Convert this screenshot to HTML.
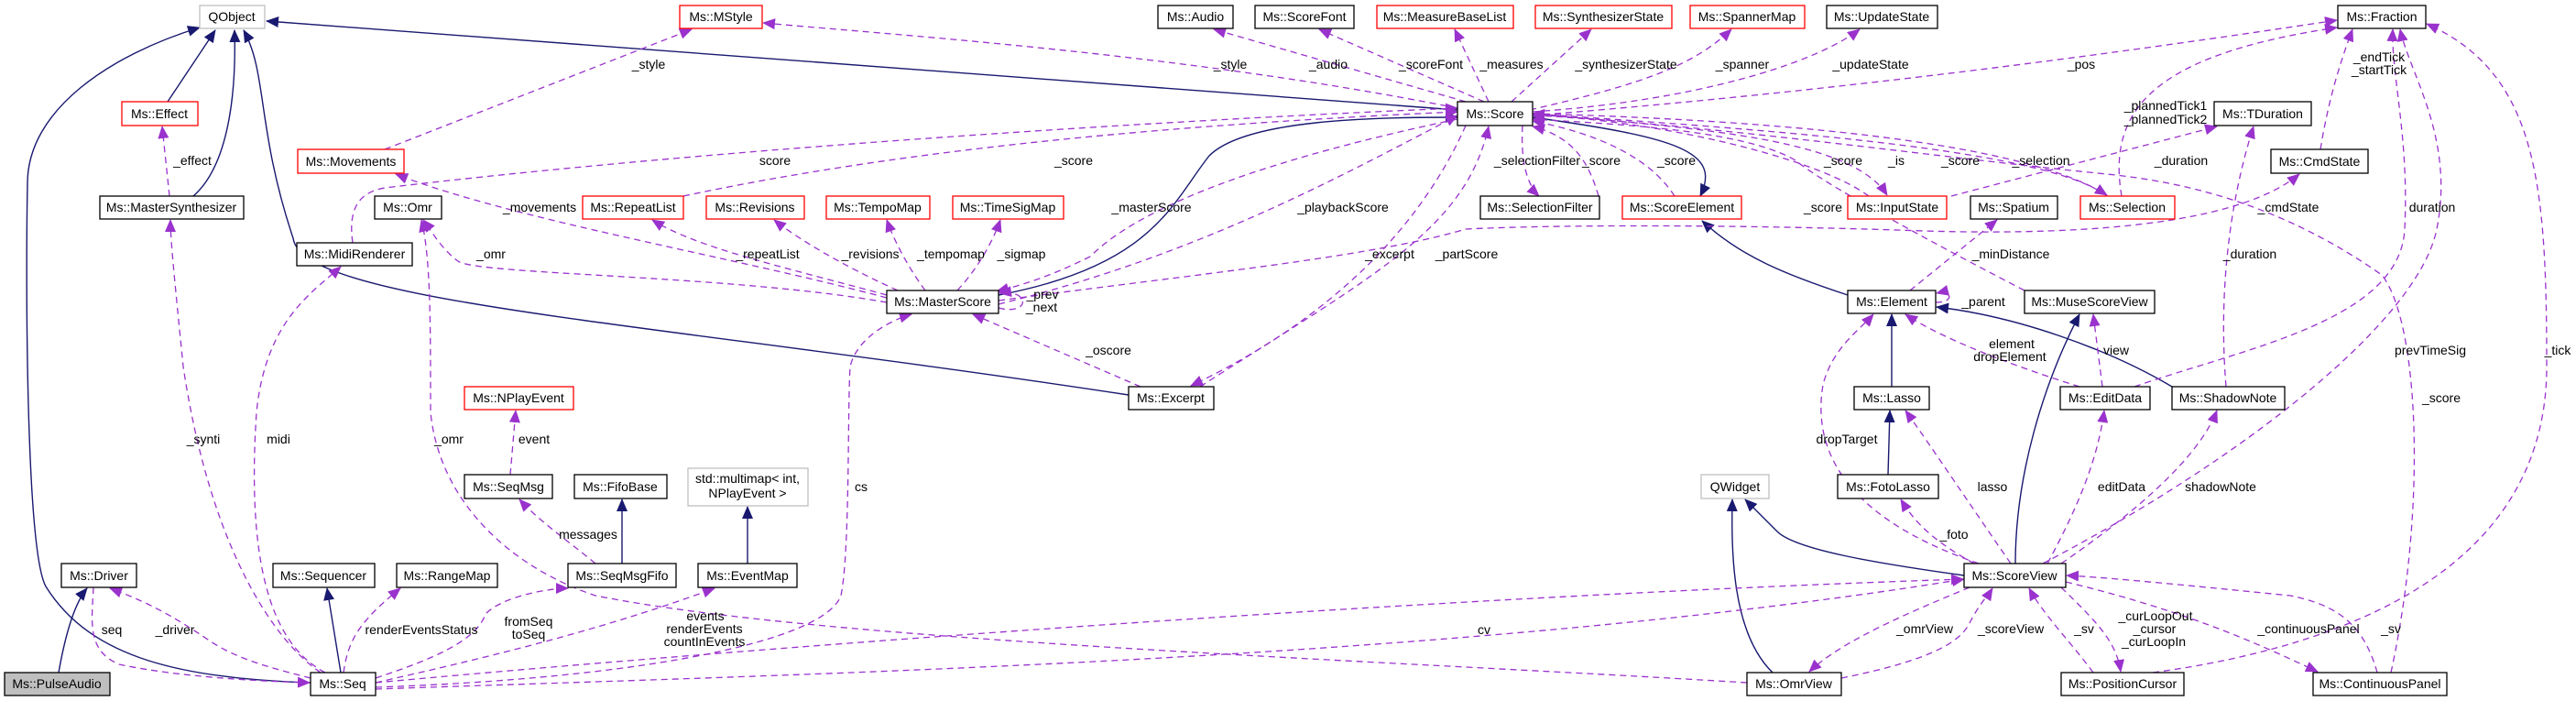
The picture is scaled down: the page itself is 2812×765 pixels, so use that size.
<!DOCTYPE html>
<html><head><meta charset="utf-8"><style>
html,body{margin:0;padding:0;background:#fff;}
svg{display:block;font-family:"Liberation Sans",Arial,sans-serif;}
.n{fill:#fff;stroke:#000;stroke-width:1.3}
.r{fill:#fff;stroke:#ff0000;stroke-width:1.3}
.g{fill:#fff;stroke:#bfbfbf;stroke-width:1.3}
.t{font-size:14px;text-anchor:middle;fill:#000}
.l{font-size:14px;text-anchor:middle;fill:#000}
.i{fill:none;stroke:#191970;stroke-width:1.4}
.u{fill:none;stroke:#9a32cd;stroke-width:1.3;stroke-dasharray:7,5}
</style></head><body>
<svg width="2812" height="765" viewBox="0 0 2812 765" xmlns="http://www.w3.org/2000/svg">
<defs>
<marker id="an" markerWidth="14" markerHeight="12" refX="13" refY="6" orient="auto" markerUnits="userSpaceOnUse"><path d="M0,0 L14,6 L0,12 z" fill="#191970"/></marker>
<marker id="ap" markerWidth="14" markerHeight="12" refX="13" refY="6" orient="auto" markerUnits="userSpaceOnUse"><path d="M0,0 L14,6 L0,12 z" fill="#9a32cd"/></marker>
</defs>

<!-- inheritance edges -->
<g class="i" marker-end="url(#an)">
<path d="M183,111 L235,33"/>
<path d="M211,214 C250,180 258,100 256,33"/>
<path d="M1591,120 L291,23"/>
<path d="M1232,431 C700,350 330,330 320,260 C280,140 292,80 266,33"/>
<path d="M339,745 C200,740 100,720 50,640 C28,600 28,300 30,200 C30,120 120,60 218,30"/>
<path d="M64,734 C70,700 80,660 95,642"/>
<path d="M372,734 L357,642"/>
<path d="M679,615 L679,545"/>
<path d="M816,615 L816,553"/>
<path d="M1090,322 C1260,290 1280,220 1320,170 C1360,130 1500,128 1591,128"/>
<path d="M1673,128 C1830,150 1880,165 1856,214"/>
<path d="M2017,322 C1950,300 1900,280 1858,241"/>
<path d="M2065,422 L2065,343"/>
<path d="M2061,518 L2063,448"/>
<path d="M2371,422 C2300,380 2200,345 2114,335"/>
<path d="M2200,615 C2200,520 2230,420 2270,343"/>
<path d="M2144,628 C2050,615 1960,600 1940,580 C1920,560 1910,550 1905,545"/>
<path d="M1935,734 C1890,690 1890,600 1891,545"/>
</g>

<!-- usage edges -->
<g class="u" marker-end="url(#ap)">
<path d="M420,163 L755,32"/>
<path d="M1591,118 C1300,60 1000,40 833,25"/>
<path d="M1600,111 L1325,32"/>
<path d="M1620,111 L1440,32"/>
<path d="M1625,111 L1588,32"/>
<path d="M1650,111 L1737,32"/>
<path d="M1670,120 C1800,90 1850,70 1890,32"/>
<path d="M1673,122 C1850,110 1980,70 2030,32"/>
<path d="M1673,126 C2000,100 2300,60 2551,22"/>
<path d="M2316,214 C2300,120 2350,60 2551,30"/>
<path d="M2533,163 C2540,120 2550,80 2568,32"/>
<path d="M2330,422 C2450,380 2620,350 2625,250 C2630,150 2610,80 2612,32"/>
<path d="M2350,734 C2600,700 2780,600 2780,400 C2780,200 2770,80 2649,26"/>
<path d="M2230,615 C2450,500 2640,350 2660,250 C2680,150 2630,80 2620,32"/>
<path d="M2430,422 C2420,300 2440,200 2460,138"/>
<path d="M2130,214 L2420,138"/>
<path d="M1090,328 C1300,300 1500,280 1600,250 C1700,245 1900,245 2100,252 C2300,258 2450,240 2510,190"/>
<path d="M1310,422 C1500,300 1600,250 1625,138"/>
<path d="M1600,137 C1550,250 1450,350 1300,421"/>
<path d="M1245,422 L1062,343"/>
<path d="M1591,130 C1400,170 1250,220 1190,280 C1150,300 1120,310 1088,318"/>
<path d="M1090,332 C1300,280 1450,200 1591,126"/>
<path d="M1090,336 C1125,345 1125,315 1091,320"/>
<path d="M968,325 C800,280 560,240 432,190"/>
<path d="M968,330 C800,300 520,300 500,285 C480,270 470,250 462,240"/>
<path d="M968,322 C850,290 760,270 712,240"/>
<path d="M980,317 C920,290 870,260 845,240"/>
<path d="M1010,317 C990,290 975,260 968,240"/>
<path d="M1045,317 C1070,290 1085,260 1092,240"/>
<path d="M385,265 C380,230 390,210 420,205 C800,160 1300,130 1591,118"/>
<path d="M746,214 C1000,160 1300,135 1591,122"/>
<path d="M2040,214 C1980,170 1800,130 1673,126"/>
<path d="M1673,124 C1850,140 2020,150 2060,213"/>
<path d="M2300,214 C2230,160 1900,140 1673,124"/>
<path d="M1673,124 C1900,130 2200,150 2300,213"/>
<path d="M2210,317 C2100,260 1990,200 1960,175 C1900,140 1750,135 1673,130"/>
<path d="M1745,214 C1735,180 1720,150 1673,138"/>
<path d="M1662,137 C1660,170 1665,200 1680,214"/>
<path d="M1828,214 C1800,170 1740,145 1673,132"/>
<path d="M2610,734 C2650,550 2640,350 2600,300 C2500,230 2400,200 2300,190 C2100,170 1900,140 1673,125"/>
<path d="M2113,330 C2135,330 2130,316 2114,320"/>
<path d="M2085,317 L2180,240"/>
<path d="M2270,422 C2200,400 2120,370 2080,343"/>
<path d="M2295,422 L2285,343"/>
<path d="M2160,615 C2000,560 1980,480 1990,420 C2000,380 2030,360 2045,343"/>
<path d="M2195,615 C2150,550 2110,490 2080,448"/>
<path d="M2155,615 C2110,590 2090,570 2075,545"/>
<path d="M2235,615 C2270,550 2290,500 2297,448"/>
<path d="M2250,615 C2330,560 2400,500 2420,448"/>
<path d="M2010,740 C2110,720 2140,700 2150,680 C2160,660 2170,650 2175,642"/>
<path d="M2150,641 C2080,670 2010,700 1975,733"/>
<path d="M2285,734 C2260,700 2230,670 2215,642"/>
<path d="M2250,641 C2290,680 2310,700 2315,733"/>
<path d="M2255,635 C2400,670 2480,710 2530,733"/>
<path d="M2595,734 C2580,680 2550,660 2500,650 C2400,640 2300,630 2256,628"/>
<path d="M410,745 C900,700 1600,650 2143,632"/>
<path d="M1907,745 C1500,720 900,700 650,650 C560,620 480,550 470,450 C470,350 470,280 460,240"/>
<path d="M410,750 C700,740 900,700 918,650 C928,600 925,450 928,400 C935,370 970,350 995,343"/>
<path d="M339,740 C300,730 260,720 230,700 C200,680 170,660 120,642"/>
<path d="M102,641 C100,680 95,710 130,725 C200,740 300,744 338,745"/>
<path d="M350,734 C300,700 230,600 200,400 C190,300 186,260 186,240"/>
<path d="M355,734 C290,700 270,600 280,450 C290,350 340,320 372,291"/>
<path d="M375,734 C380,700 390,680 437,642"/>
<path d="M410,740 C470,720 520,700 530,670 C550,650 600,642 620,642"/>
<path d="M410,745 C520,720 650,690 780,642"/>
<path d="M557,518 L563,448"/>
<path d="M650,615 C620,590 590,570 567,545"/>
<path d="M185,214 L177,138"/>
<path d="M410,752 C900,735 1600,720 2144,632"/>
</g>

<!-- nodes -->
<g>
<rect class="g" x="218" y="6" width="71" height="25"/><text class="t" x="253" y="23">QObject</text>
<rect class="r" x="742" y="6" width="90" height="25"/><text class="t" x="787" y="23">Ms::MStyle</text>
<rect class="n" x="1264" y="6" width="82" height="25"/><text class="t" x="1305" y="23">Ms::Audio</text>
<rect class="n" x="1370" y="6" width="108" height="25"/><text class="t" x="1424" y="23">Ms::ScoreFont</text>
<rect class="r" x="1503" y="6" width="149" height="25"/><text class="t" x="1577" y="23">Ms::MeasureBaseList</text>
<rect class="r" x="1676" y="6" width="149" height="25"/><text class="t" x="1750" y="23">Ms::SynthesizerState</text>
<rect class="r" x="1845" y="6" width="125" height="25"/><text class="t" x="1907" y="23">Ms::SpannerMap</text>
<rect class="n" x="1994" y="6" width="121" height="25"/><text class="t" x="2054" y="23">Ms::UpdateState</text>
<rect class="n" x="2552" y="6" width="96" height="25"/><text class="t" x="2600" y="23">Ms::Fraction</text>

<rect class="r" x="133" y="111" width="83" height="26"/><text class="t" x="174" y="129">Ms::Effect</text>
<rect class="n" x="1591" y="111" width="82" height="26"/><text class="t" x="1632" y="129">Ms::Score</text>
<rect class="n" x="2417" y="111" width="106" height="26"/><text class="t" x="2470" y="129">Ms::TDuration</text>

<rect class="r" x="325" y="163" width="116" height="26"/><text class="t" x="383" y="181">Ms::Movements</text>
<rect class="n" x="2479" y="163" width="106" height="26"/><text class="t" x="2532" y="181">Ms::CmdState</text>

<rect class="n" x="109" y="214" width="157" height="25"/><text class="t" x="187" y="231">Ms::MasterSynthesizer</text>
<rect class="n" x="409" y="214" width="73" height="25"/><text class="t" x="445" y="231">Ms::Omr</text>
<rect class="r" x="636" y="214" width="110" height="25"/><text class="t" x="691" y="231">Ms::RepeatList</text>
<rect class="r" x="771" y="214" width="107" height="25"/><text class="t" x="824" y="231">Ms::Revisions</text>
<rect class="r" x="902" y="214" width="113" height="25"/><text class="t" x="958" y="231">Ms::TempoMap</text>
<rect class="r" x="1040" y="214" width="121" height="25"/><text class="t" x="1100" y="231">Ms::TimeSigMap</text>
<rect class="n" x="1616" y="214" width="130" height="25"/><text class="t" x="1681" y="231">Ms::SelectionFilter</text>
<rect class="r" x="1771" y="214" width="130" height="25"/><text class="t" x="1836" y="231">Ms::ScoreElement</text>
<rect class="r" x="2017" y="214" width="108" height="25"/><text class="t" x="2071" y="231">Ms::InputState</text>
<rect class="n" x="2151" y="214" width="95" height="25"/><text class="t" x="2198" y="231">Ms::Spatium</text>
<rect class="r" x="2271" y="214" width="103" height="25"/><text class="t" x="2322" y="231">Ms::Selection</text>

<rect class="n" x="324" y="265" width="126" height="25"/><text class="t" x="387" y="282">Ms::MidiRenderer</text>

<rect class="n" x="968" y="317" width="122" height="25"/><text class="t" x="1029" y="334">Ms::MasterScore</text>
<rect class="n" x="2017" y="317" width="96" height="25"/><text class="t" x="2065" y="334">Ms::Element</text>
<rect class="n" x="2210" y="317" width="142" height="25"/><text class="t" x="2281" y="334">Ms::MuseScoreView</text>

<rect class="r" x="507" y="422" width="119" height="25"/><text class="t" x="566" y="439">Ms::NPlayEvent</text>
<rect class="n" x="1232" y="422" width="93" height="25"/><text class="t" x="1278" y="439">Ms::Excerpt</text>
<rect class="n" x="2024" y="422" width="82" height="25"/><text class="t" x="2065" y="439">Ms::Lasso</text>
<rect class="n" x="2249" y="422" width="98" height="25"/><text class="t" x="2298" y="439">Ms::EditData</text>
<rect class="n" x="2371" y="422" width="123" height="25"/><text class="t" x="2432" y="439">Ms::ShadowNote</text>

<rect class="n" x="507" y="518" width="96" height="26"/><text class="t" x="555" y="536">Ms::SeqMsg</text>
<rect class="n" x="627" y="518" width="101" height="26"/><text class="t" x="677" y="536">Ms::FifoBase</text>
<rect class="g" x="751" y="511" width="131" height="41"/><text class="t" x="816" y="527">std::multimap&lt; int,</text><text class="t" x="816" y="543">NPlayEvent &gt;</text>
<rect class="g" x="1857" y="518" width="74" height="26"/><text class="t" x="1894" y="536">QWidget</text>
<rect class="n" x="2006" y="518" width="110" height="26"/><text class="t" x="2061" y="536">Ms::FotoLasso</text>

<rect class="n" x="67" y="615" width="82" height="26"/><text class="t" x="108" y="633">Ms::Driver</text>
<rect class="n" x="298" y="615" width="111" height="26"/><text class="t" x="353" y="633">Ms::Sequencer</text>
<rect class="n" x="433" y="615" width="110" height="26"/><text class="t" x="488" y="633">Ms::RangeMap</text>
<rect class="n" x="620" y="615" width="118" height="26"/><text class="t" x="679" y="633">Ms::SeqMsgFifo</text>
<rect class="n" x="762" y="615" width="108" height="26"/><text class="t" x="816" y="633">Ms::EventMap</text>
<rect class="n" x="2144" y="615" width="111" height="26"/><text class="t" x="2199" y="633">Ms::ScoreView</text>

<rect x="5" y="734" width="115" height="25" fill="#bfbfbf" stroke="#000" stroke-width="1.3"/><text class="t" x="62" y="751">Ms::PulseAudio</text>
<rect class="n" x="339" y="734" width="71" height="25"/><text class="t" x="374" y="751">Ms::Seq</text>
<rect class="n" x="1907" y="734" width="103" height="25"/><text class="t" x="1958" y="751">Ms::OmrView</text>
<rect class="n" x="2250" y="734" width="134" height="25"/><text class="t" x="2317" y="751">Ms::PositionCursor</text>
<rect class="n" x="2525" y="734" width="146" height="25"/><text class="t" x="2598" y="751">Ms::ContinuousPanel</text>
</g>

<!-- edge labels -->
<g class="l">
<text x="708" y="75">_style</text>
<text x="1343" y="75">_style</text>
<text x="1450" y="75">_audio</text>
<text x="1562" y="75">_scoreFont</text>
<text x="1650" y="75">_measures</text>
<text x="1775" y="75">_synthesizerState</text>
<text x="1902" y="75">_spanner</text>
<text x="2042" y="75">_updateState</text>
<text x="2272" y="75">_pos</text>
<text x="2597" y="67">_endTick</text><text x="2597" y="81">_startTick</text>
<text x="2364" y="120">_plannedTick1</text><text x="2364" y="135">_plannedTick2</text>
<text x="210" y="180">_effect</text>
<text x="846" y="180">score</text>
<text x="1172" y="180">_score</text>
<text x="1678" y="180">_selectionFilter</text>
<text x="1748" y="180">_score</text>
<text x="1830" y="180">_score</text>
<text x="2012" y="180">_score</text>
<text x="2070" y="180">_is</text>
<text x="2140" y="180">_score</text>
<text x="2228" y="180">_selection</text>
<text x="2381" y="180">_duration</text>
<text x="589" y="231">_movements</text>
<text x="1257" y="231">_masterScore</text>
<text x="1466" y="231">_playbackScore</text>
<text x="1990" y="231">_score</text>
<text x="2498" y="231">_cmdState</text>
<text x="2655" y="231">duration</text>
<text x="536" y="282">_omr</text>
<text x="838" y="282">_repeatList</text>
<text x="950" y="282">_revisions</text>
<text x="1038" y="282">_tempomap</text>
<text x="1115" y="282">_sigmap</text>
<text x="1517" y="282">_excerpt</text>
<text x="1601" y="282">_partScore</text>
<text x="2195" y="282">_minDistance</text>
<text x="2456" y="282">_duration</text>
<text x="1138" y="326">_prev</text><text x="1137" y="340">_next</text>
<text x="2165" y="334">_parent</text>
<text x="2196" y="380">element</text><text x="2194" y="394">dropElement</text>
<text x="1210" y="387">_oscore</text>
<text x="2310" y="387">view</text>
<text x="2653" y="387">prevTimeSig</text>
<text x="2792" y="387">_tick</text>
<text x="2665" y="439">_score</text>
<text x="222" y="484">_synti</text>
<text x="304" y="484">midi</text>
<text x="490" y="484">_omr</text>
<text x="583" y="484">event</text>
<text x="940" y="536">cs</text>
<text x="2016" y="484">dropTarget</text>
<text x="2175" y="536">lasso</text>
<text x="2316" y="536">editData</text>
<text x="2424" y="536">shadowNote</text>
<text x="642" y="588">messages</text>
<text x="2133" y="588">_foto</text>
<text x="122" y="692">seq</text>
<text x="191" y="692">_driver</text>
<text x="460" y="692">renderEventsStatus</text>
<text x="577" y="683">fromSeq</text><text x="577" y="697">toSeq</text>
<text x="770" y="677">events</text><text x="769" y="691">renderEvents</text><text x="769" y="705">countInEvents</text>
<text x="1620" y="692">cv</text>
<text x="2101" y="691">_omrView</text>
<text x="2195" y="691">_scoreView</text>
<text x="2275" y="691">_sv</text>
<text x="2353" y="677">_curLoopOut</text><text x="2352" y="691">_cursor</text><text x="2351" y="705">_curLoopIn</text>
<text x="2520" y="691">_continuousPanel</text>
<text x="2610" y="691">_sv</text>
</g>
</svg>
</body></html>
